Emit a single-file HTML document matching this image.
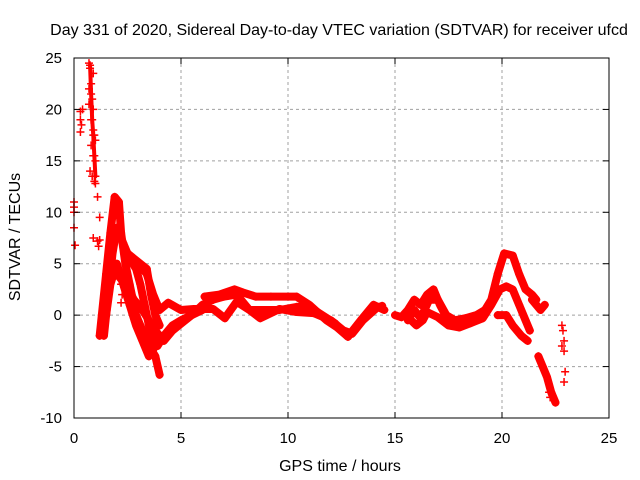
<!DOCTYPE html>
<html><head><meta charset="utf-8"><style>
html,body{margin:0;padding:0;background:#fff}
svg{display:block;font-family:"Liberation Sans",sans-serif}
</style></head><body>
<svg id="chart" width="640" height="480" viewBox="0 0 640 480">
<text x="339" y="35" font-size="16" text-anchor="middle">Day 331 of 2020, Sidereal Day-to-day VTEC variation (SDTVAR) for receiver ufcd</text>
<text x="340" y="471" font-size="16" text-anchor="middle">GPS time / hours</text>
<text transform="translate(20,237) rotate(-90)" font-size="16" text-anchor="middle">SDTVAR / TECUs</text>
<g id="grid"></g><g id="marks"></g><g id="axes"></g>
</svg>
<script>
const xTicks=[0,5,10,15,20,25];
const yTicks=[-10,-5,0,5,10,15,20,25];
// band tracks [hour, value]
const track1=[[1.2,-2],[1.3,0],[1.5,4],[1.7,8],[1.9,11.5],[2.1,11],[2.2,8],[2.4,5],[2.6,3],[2.9,0],[3.2,-1.5],[3.5,-3],[3.8,-4],[4.0,-5.8]];
const track2=[[1.4,-2],[1.6,2],[1.8,6],[2.0,8.5],[2.3,7],[2.6,5.5],[2.9,4.5],[3.1,3],[3.3,1],[3.6,-2],[3.9,-3],[4.2,-2],[4.6,-1],[5.0,-0.5],[5.5,0],[6.0,0.5]];
const track3=[[2.0,4],[2.4,3],[2.8,1.5],[3.2,0.5],[3.5,-0.5],[3.8,-1.5],[4.2,-2.5],[4.6,-1.5],[4.9,-1],[5.5,0],[6.0,1],[6.5,1.5],[7.0,1.8],[7.6,2],[8.2,0.5],[8.8,0.5],[9.6,0.5],[10.4,0.8],[11,0.8],[11.6,0],[12.2,-0.8],[12.8,-2.1],[13.3,-0.8],[14,0.6],[14.4,0.9]];
const track4=[[3.0,5],[3.4,4],[3.7,2],[4.0,0.5],[4.4,1.2],[5.0,0.5],[5.6,0.6],[6.5,0.6],[7.05,-0.3],[7.6,1.3],[8.2,0.5],[8.7,-0.3],[9.6,0.6],[10.4,0.3],[11.2,0.2],[12,-0.5],[12.6,-1.5],[13.0,-1.8],[13.5,-0.5],[14.2,0.8]];
const track5=[[6.1,1.8],[6.8,2],[7.5,2.5],[7.9,2.2],[8.5,1.8],[9.2,1.8],[10.4,1.8],[11,1],[11.8,-0.5],[12.3,-1.2],[12.8,-2.1],[13.4,-0.5],[14,1],[14.5,0.5]];
const track6=[[15,0],[15.3,-0.2],[15.6,0.5],[15.9,1.5],[16.2,1],[16.5,2],[16.8,2.5],[17.1,1],[17.4,-0.2],[17.7,-0.8],[18,-1],[18.5,-0.8],[19,-0.2],[19.5,1.5],[19.8,4],[20.1,6],[20.5,5.8],[20.8,4],[21.1,2.5],[21.4,2],[21.6,1.5]];
const track7=[[15.5,0],[16,-1],[16.3,-0.5],[16.5,0.3],[17,-0.2],[17.5,-1],[18,-1.2],[18.5,-0.8],[19.1,-0.3],[19.5,1],[19.9,2.5],[20.2,2.8],[20.5,2.5],[20.8,1],[21.1,-0.5],[21.3,-1.5]];
const track8=[[19.8,0],[20.2,0],[20.5,-1],[20.9,-2],[21.2,-2.5]];
const track9=[[21.4,1.5],[21.6,1],[21.8,0.5],[22,1]];
const track10=[[21.7,-4],[21.9,-5],[22.1,-6],[22.3,-7.5],[22.5,-8.5]];
const track11=[[2.5,6],[2.8,5.5],[3.1,5],[3.4,4.5],[3.6,2],[3.8,0],[4.0,-1]];
const track12=[[1.5,0],[1.7,3],[2.0,5],[2.3,3],[2.6,1],[2.9,-1],[3.2,-2.5],[3.5,-4],[3.8,-3]];
const track13=[[15.6,-0.5],[15.9,0.5],[16.2,-0.3],[16.6,1.5],[17.0,1.5],[17.4,0],[17.8,-0.5],[18.3,-0.3],[18.8,0],[19.2,0.5]];
const track14=[[0.75,24.3],[0.8,21.5],[0.85,19],[0.9,17.5],[0.95,15.5],[1.0,13.5]];
// sparse scattered points
const scatterT=[0.0,0.0,0.0,0.0,0.05,0.3,0.3,0.35,0.3,0.4,0.7,0.75,0.8,0.85,0.9,0.7,0.8,0.9,0.95,1.0,0.8,0.9,1.0,0.75,0.85,0.95,1.0,0.7,0.9,1.1,1.2,1.2,0.9,1.1,1.15,2.2,2.25,2.2,22.8,22.85,22.9,22.8,22.9,22.95,22.9,22.2,22.25];
const scatterV=[11,10.5,10,8.5,6.8,19.8,19,18.5,17.8,20,24.5,24,22.5,21,20,20.5,19,18,17.5,17,16.5,15.5,15,14,13.5,13,12.8,22,23.5,11.5,9.5,7.3,7.5,7.2,6.7,3,2,1.2,-1,-1.5,-2.5,-3,-3.5,-5.5,-6.5,-7.5,-8];
const tracks=[track1,track2,track3,track4,track5,track6,track7,track8,track9,track10,track11,track12,track13];
const thinTracks=[track14];

const X0=74,X1=609,Y0=418,Y1=58;
const xs=t=>X0+(t-0)/25*(X1-X0);
const ys=v=>Y0-(v+10)/35*(Y0-Y1);
const NS="http://www.w3.org/2000/svg";
function mk(tag,attrs,parent){const e=document.createElementNS(NS,tag);for(const k in attrs)e.setAttribute(k,attrs[k]);parent.appendChild(e);return e;}
const grid=document.getElementById('grid'),marks=document.getElementById('marks'),axes=document.getElementById('axes');
xTicks.forEach(t=>{
  if(t>0&&t<25){const l=mk('line',{x1:xs(t),x2:xs(t),y1:Y1,y2:Y0,stroke:'#a0a0a0','stroke-dasharray':'3,3'},grid);
  
  }
  mk('line',{x1:xs(t),x2:xs(t),y1:Y0,y2:Y0-6,stroke:'#000'},axes);
  mk('line',{x1:xs(t),x2:xs(t),y1:Y1,y2:Y1+6,stroke:'#000'},axes);
  const tx=mk('text',{x:xs(t),y:443,'font-size':15,'text-anchor':'middle'},axes);tx.textContent=t;
  
  
});
yTicks.forEach(v=>{
  if(v>-10&&v<25){const l=mk('line',{x1:X0,x2:X1,y1:ys(v),y2:ys(v),stroke:'#a0a0a0','stroke-dasharray':'3,3'},grid);
  
  }
  mk('line',{x1:X0,x2:X0+6,y1:ys(v),y2:ys(v),stroke:'#000'},axes);
  mk('line',{x1:X1,x2:X1-6,y1:ys(v),y2:ys(v),stroke:'#000'},axes);
  const tx=mk('text',{x:62,y:ys(v)+5,'font-size':15,'text-anchor':'end'},axes);tx.textContent=v;
  
  
});
const frame=mk('rect',{x:X0,y:Y1,width:X1-X0,height:Y0-Y1,fill:'none',stroke:'#000'},axes);


function plus(t,v){const x=xs(t),y=ys(v);
  const p=mk('path',{d:`M${x-4},${y}H${x+4}M${x},${y-4}V${y+4}`,stroke:'#f00','stroke-width':1.5,fill:'none'},marks);
  
  }
function band(tr,w){
  const pl=mk('polyline',{points:tr.map(p=>xs(p[0])+','+ys(p[1])).join(' '),fill:'none',stroke:'#f00','stroke-width':w,'stroke-linejoin':'round','stroke-linecap':'round'},marks);
  
  
  tr.forEach(p=>plus(p[0],p[1]));
}
tracks.forEach(tr=>band(tr,8));
thinTracks.forEach(tr=>band(tr,4));
scatterT.forEach((t,i)=>plus(t,scatterV[i]));
</script>
</body></html>
